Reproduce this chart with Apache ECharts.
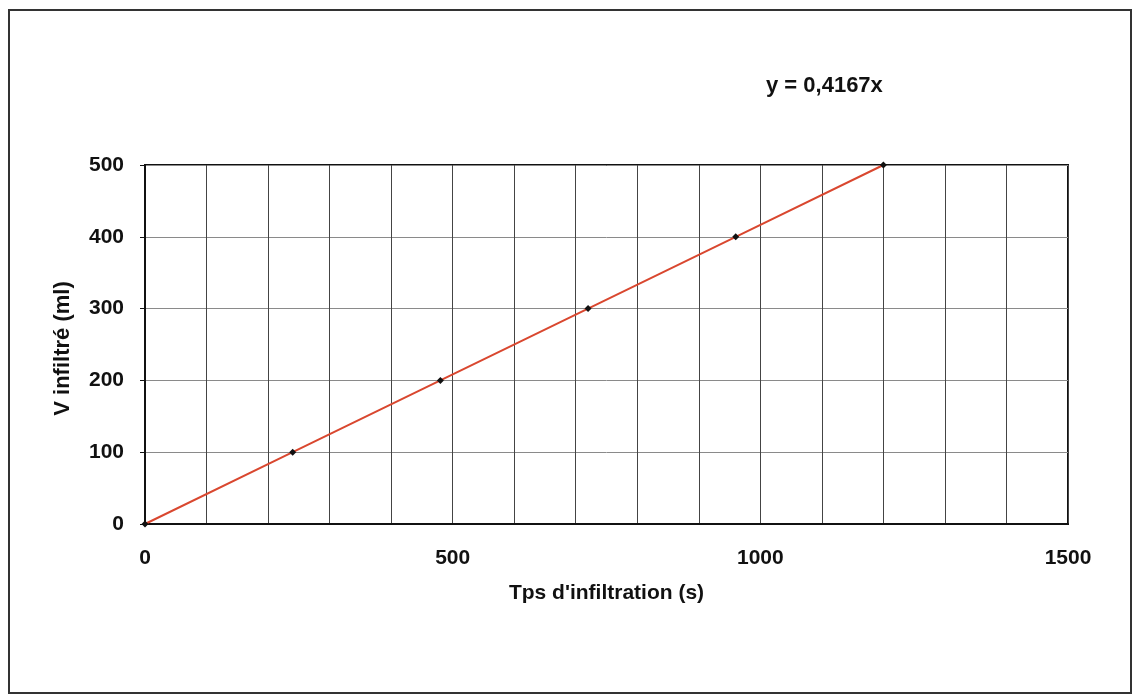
<!DOCTYPE html>
<html>
<head>
<meta charset="utf-8">
<script src="https://cdn.jsdelivr.net/npm/echarts@6/dist/echarts.min.js"></script>
<style>
  html, body { margin: 0; padding: 0; background: #fff; }
  #chart { width: 1133px; height: 695px; }
</style>
</head>
<body>
<div id="chart"></div>
<script>
// temps d'infiltration (s) et volume infiltré (ml)
var temps = [0, 240, 480, 720, 960, 1200];
var volume = [0, 100, 200, 300, 400, 500];
var equation = 'y = 0,4167x';

var chart = echarts.init(document.getElementById('chart'));
var fontBold = { fontFamily: 'Liberation Sans, Arial, sans-serif', fontWeight: 'bold', color: '#111' };

var option = {
    backgroundColor: '#fff',
    animation: false,
    graphic: [
        {
            type: 'rect',
            shape: { x: 9, y: 10, width: 1122, height: 683 },
            style: { fill: 'none', stroke: '#333', lineWidth: 2 }
        },
        {
            type: 'text',
            left: 766, top: 75,
            style: {
                text: equation,
                font: 'bold 22px "Liberation Sans", Arial, sans-serif',
                fill: '#111'
            }
        }
    ],
    grid: {
        left: 145, right: 65, top: 165, bottom: 171,
        show: true,
        borderColor: '#111',
        borderWidth: 2
    },
    xAxis: {
        type: 'value',
        min: 0, max: 1500, interval: 100,
        name: "Tps d'infiltration (s)",
        nameLocation: 'middle',
        nameGap: 59,
        nameTextStyle: Object.assign({ fontSize: 21 }, fontBold),
        axisLine: { show: true, lineStyle: { color: '#111', width: 2 } },
        axisTick: { show: false },
        axisLabel: Object.assign({
            fontSize: 21,
            margin: 24,
            formatter: function (v) { return v % 500 === 0 ? String(v) : ''; }
        }, fontBold),
        splitLine: { show: true, lineStyle: { color: '#444', width: 1 } }
    },
    yAxis: {
        type: 'value',
        min: 0, max: 500, interval: 100,
        name: 'V infiltré (ml)',
        nameLocation: 'middle',
        nameGap: 71,
        nameTextStyle: Object.assign({ fontSize: 22, padding: [0, 8, 0, 0] }, fontBold),
        axisLine: { show: true, lineStyle: { color: '#111', width: 2 } },
        axisTick: { show: true, inside: false, length: 5, lineStyle: { color: '#111', width: 1 } },
        axisLabel: Object.assign({ fontSize: 21, margin: 21 }, fontBold),
        splitLine: { show: true, lineStyle: { color: '#8a8a8a', width: 1 } }
    },
    series: [
        {
            type: 'line',
            data: temps.map(function (t, i) { return [t, volume[i]]; }),
            symbol: 'diamond',
            symbolSize: 7,
            showAllSymbol: true,
            itemStyle: { color: '#111' },
            lineStyle: { color: '#d9472f', width: 2 },
            z: 5
        }
    ]
};
chart.setOption(option);
</script>
</body>
</html>
